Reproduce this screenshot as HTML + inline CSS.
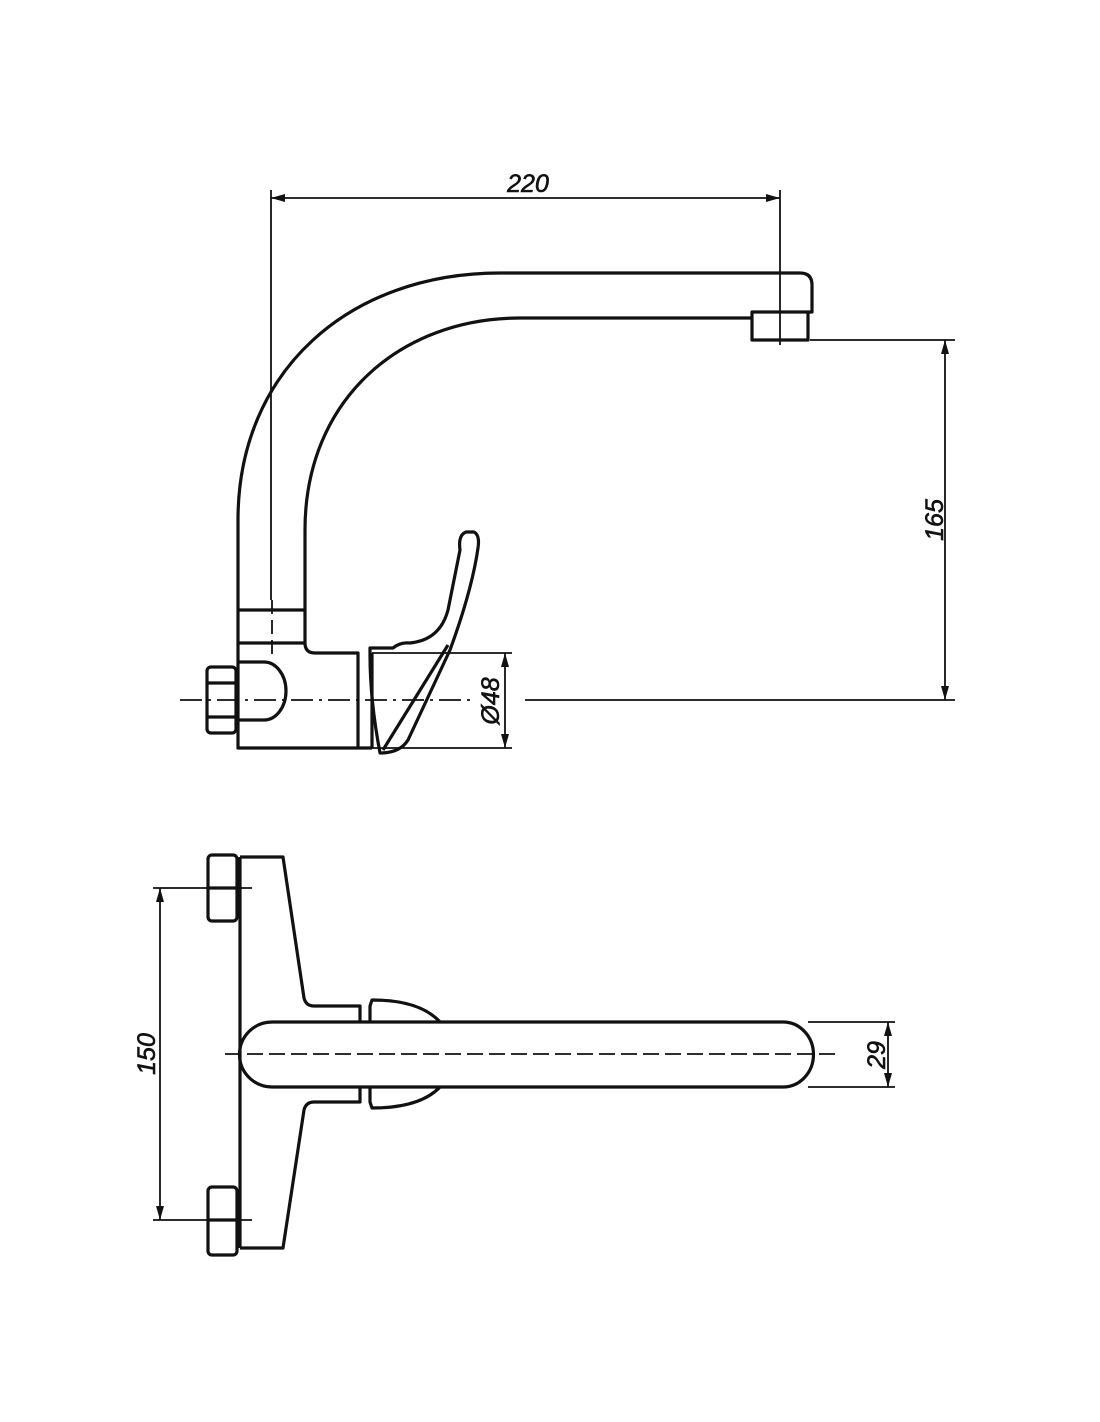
<!DOCTYPE html>
<html><head><style>html,body{margin:0;padding:0;background:#fff}svg{display:block}text{font-family:"Liberation Sans",sans-serif;font-style:italic;font-size:25px;fill:#111}</style></head><body>
<svg width="1100" height="1422" viewBox="0 0 1100 1422" xmlns="http://www.w3.org/2000/svg">
<g fill="none" stroke="#111" stroke-width="3.2" stroke-linejoin="round">
<path d="M238,610 L238,520 C238,370 350,273 500,273 L800,273 Q812,273 812,285 L812,312 L752,312 L752,340 L808,340 L808,312"/>
<path d="M305,643 L305,530 C305,400 400,318 520,318 L752,318"/>
<line x1="238" y1="610" x2="305" y2="610"/>
<line x1="238" y1="643" x2="305" y2="643"/>
<path d="M238,610 L238,748 L372,748"/>
<path d="M305,643 Q305,653 315,653 L358,653 L358,748"/>
<path d="M264,662 A22,29 0 0 1 264,720 L238,720 M238,662 L264,662"/>
<rect x="207" y="667" width="29" height="66" rx="4"/>
<line x1="207" y1="683" x2="236" y2="683"/><line x1="207" y1="717" x2="236" y2="717"/>
<path d="M370,648 L393,648 Q400,642 410,643 Q440,640 448,610 L460,550 Q458,535 466,532 L474,532 Q480,535 478,548 Q472,590 450,650 L408,740 Q400,753 380,753 Q370,700 370,655 Z"/>
<line x1="372" y1="653" x2="372" y2="748"/>
<path d="M448,645 L383,750"/>
</g>
<g stroke="#111" stroke-width="1.8" fill="none">
<line x1="271" y1="190" x2="271" y2="600"/>
<line x1="780" y1="190" x2="780" y2="345"/>
<line x1="271" y1="198" x2="780" y2="198"/>
<line x1="272" y1="600" x2="272" y2="660" stroke-dasharray="14,6"/>
<line x1="810" y1="340" x2="955" y2="340"/>
<line x1="525" y1="700" x2="955" y2="700"/>
<line x1="945" y1="340" x2="945" y2="700"/>
<line x1="180" y1="700" x2="470" y2="700" stroke-dasharray="22,6,3,6"/>
<line x1="372" y1="653" x2="512" y2="653"/>
<line x1="372" y1="748" x2="512" y2="748"/>
<line x1="505" y1="653" x2="505" y2="748"/>
<line x1="153" y1="888" x2="252" y2="888"/>
<line x1="153" y1="1220" x2="252" y2="1220"/>
<line x1="160" y1="888" x2="160" y2="1220"/>
<line x1="808" y1="1022" x2="895" y2="1022"/>
<line x1="808" y1="1087" x2="895" y2="1087"/>
<line x1="888" y1="1022" x2="888" y2="1087"/>
<line x1="225" y1="1054" x2="840" y2="1054" stroke-dasharray="16,6"/>
</g>
<g fill="#111">
<path d="M271,198 l14,-4 l0,8z"/><path d="M780,198 l-14,-4 l0,8z"/>
<path d="M945,340 l-4,14 l8,0z"/><path d="M945,700 l-4,-14 l8,0z"/>
<path d="M505,653 l-4,14 l8,0z"/><path d="M505,748 l-4,-14 l8,0z"/>
<path d="M160,888 l-4,14 l8,0z"/><path d="M160,1220 l-4,-14 l8,0z"/>
<path d="M888,1022 l-4,14 l8,0z"/><path d="M888,1087 l-4,-14 l8,0z"/>
</g>
<g fill="none" stroke="#111" stroke-width="3.2" stroke-linejoin="round">
<line x1="240" y1="857" x2="240" y2="1248"/>
<path d="M240,857 L283,857 L304,998 Q306,1006 314,1006 L360,1006 L360,1022"/>
<path d="M240,1248 L283,1248 L304,1110 Q306,1102 314,1102 L360,1102 L360,1087"/>
<path d="M370,1022 L370,1006 L372,1000 Q420,1000 440,1022"/>
<path d="M370,1087 L370,1102 L372,1108 Q420,1108 440,1087"/>
<path d="M272,1022 L783,1022 A30,32 0 0 1 783,1087 L272,1087 A32,32 0 0 1 272,1022 Z"/>
<rect x="208" y="855" width="29" height="66" rx="4"/>
<line x1="208" y1="888" x2="237" y2="888"/>
<rect x="208" y="1187" width="29" height="68" rx="4"/>
<line x1="208" y1="1220" x2="237" y2="1220"/>
</g>
<g stroke="#111" stroke-width="0.6">
<text x="528" y="192" text-anchor="middle">220</text>
<text transform="translate(943,520) rotate(-90)" text-anchor="middle">165</text>
<text transform="translate(499,701) rotate(-90)" text-anchor="middle">Ø48</text>
<text transform="translate(155,1054) rotate(-90)" text-anchor="middle">150</text>
<text transform="translate(885,1055) rotate(-90)" text-anchor="middle">29</text>
</g>
</svg>
</body></html>
